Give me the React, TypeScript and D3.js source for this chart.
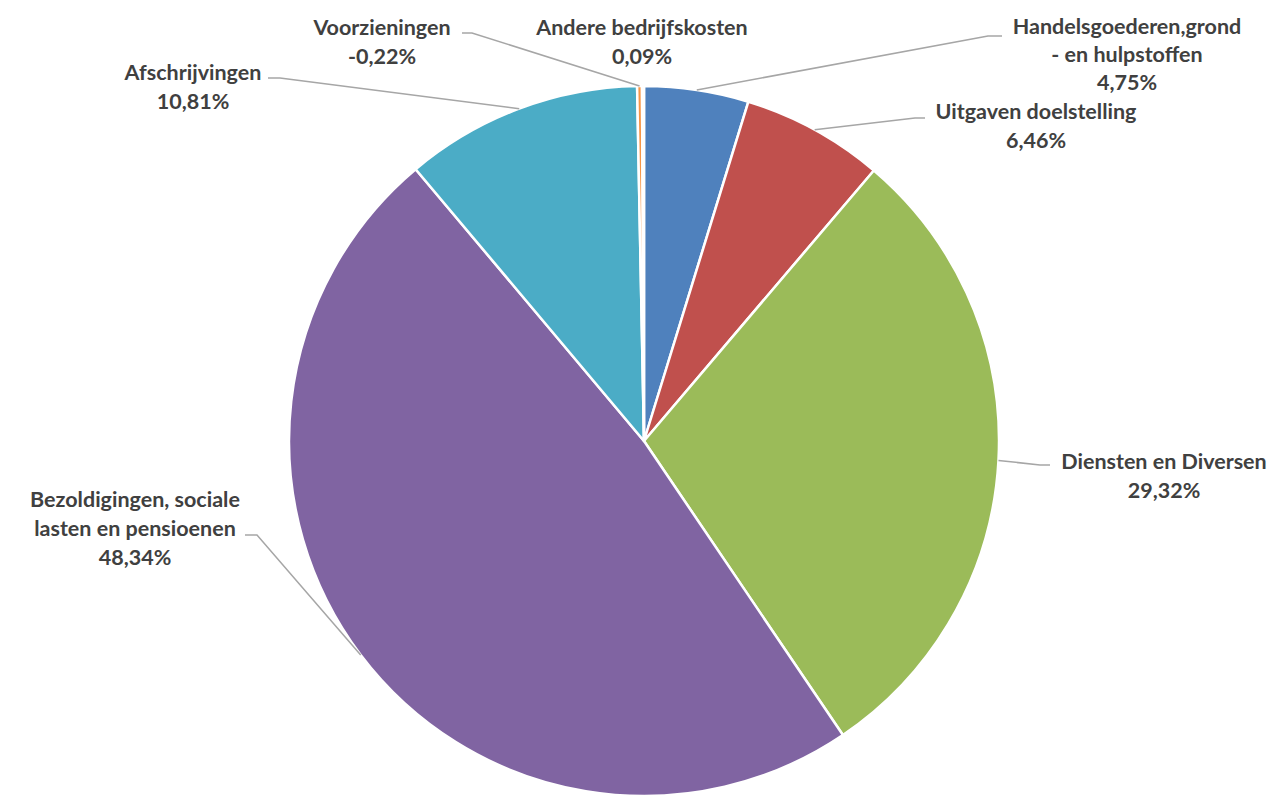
import React from 'react';
import * as d3 from 'd3';

// slices, clockwise from 12 o'clock
const categories = [
  'Handelsgoederen,grond - en hulpstoffen',
  'Uitgaven doelstelling',
  'Diensten en Diversen',
  'Bezoldigingen, sociale lasten en pensioenen',
  'Afschrijvingen',
  'Voorzieningen',
  'Andere bedrijfskosten',
];
const values = [4.75, 6.46, 29.32, 48.34, 10.81, -0.22, 0.09];
const labelLines = [
  ['Handelsgoederen,grond', '- en hulpstoffen'],
  ['Uitgaven doelstelling'],
  ['Diensten en Diversen'],
  ['Bezoldigingen, sociale', 'lasten en pensioenen'],
  ['Afschrijvingen'],
  ['Voorzieningen'],
  ['Andere bedrijfskosten'],
];
const colors = ['#4F81BD', '#C0504D', '#9BBB59', '#8064A2', '#4BACC6', '#F79646', '#2C4D75'];

// label placement: text centre x, first baseline y, line height, leader elbow (x, y), leader end near text (hx)
const labelLayout = [
  { tx: 1127, ty: 34, lh: 28, ex: 988, ey: 36, hx: 1002, leader: true },
  { tx: 1036, ty: 119, lh: 29, ex: 915, ey: 118, hx: 925, leader: true },
  { tx: 1164, ty: 469, lh: 29, ex: 1040, ey: 465, hx: 1050, leader: true },
  { tx: 135, ty: 507, lh: 29, ex: 257, ey: 535, hx: 245, leader: true },
  { tx: 193, ty: 80, lh: 29, ex: 280, ey: 78, hx: 268, leader: true },
  { tx: 382, ty: 35, lh: 29, ex: 472, ey: 33, hx: 462, leader: true },
  { tx: 642, ty: 35, lh: 29, ex: 0, ey: 0, hx: 0, leader: false },
];

const W = 1271;
const H = 798;
const cx = 644;
const cy = 441;
const radius = 355;

const fmt = (v: number) => v.toFixed(2).replace('.', ',') + '%';

export default function App() {
  const pie = d3.pie<number>().sort(null).value((d) => Math.abs(d));
  const arcs = pie(values);
  const arc = d3.arc<d3.PieArcDatum<number>>().innerRadius(0).outerRadius(radius);

  return (
    <svg width={W} height={H} style={{ position: 'absolute', left: 0, top: 0, background: '#fff' }}>
      <g transform={`translate(${cx},${cy})`}>
        {arcs.map((a, i) => (
          <path key={categories[i]} d={arc(a) ?? ''} fill={colors[i]} stroke="#fff" strokeWidth={2.5} strokeLinejoin="round" />
        ))}
      </g>
      {arcs.map((a, i) => {
        const L = labelLayout[i];
        const mid = (a.startAngle + a.endAngle) / 2;
        const px = cx + radius * Math.sin(mid);
        const py = cy - radius * Math.cos(mid);
        const lines = [...labelLines[i], fmt(values[i])];
        return (
          <g key={'lab' + i}>
            {L.leader && (
              <polyline
                points={`${px},${py} ${L.ex},${L.ey} ${L.hx},${L.ey}`}
                fill="none"
                stroke="#A6A6A6"
                strokeWidth={1.5}
              />
            )}
            <text
              x={L.tx}
              y={L.ty}
              textAnchor="middle"
              fontFamily="Lato, 'Open Sans', sans-serif"
              fontWeight={700}
              fontSize={21.5}
              fill="#404040"
            >
              {lines.map((t, j) => (
                <tspan key={j} x={L.tx} y={L.ty + j * L.lh}>
                  {t}
                </tspan>
              ))}
            </text>
          </g>
        );
      })}
    </svg>
  );
}
